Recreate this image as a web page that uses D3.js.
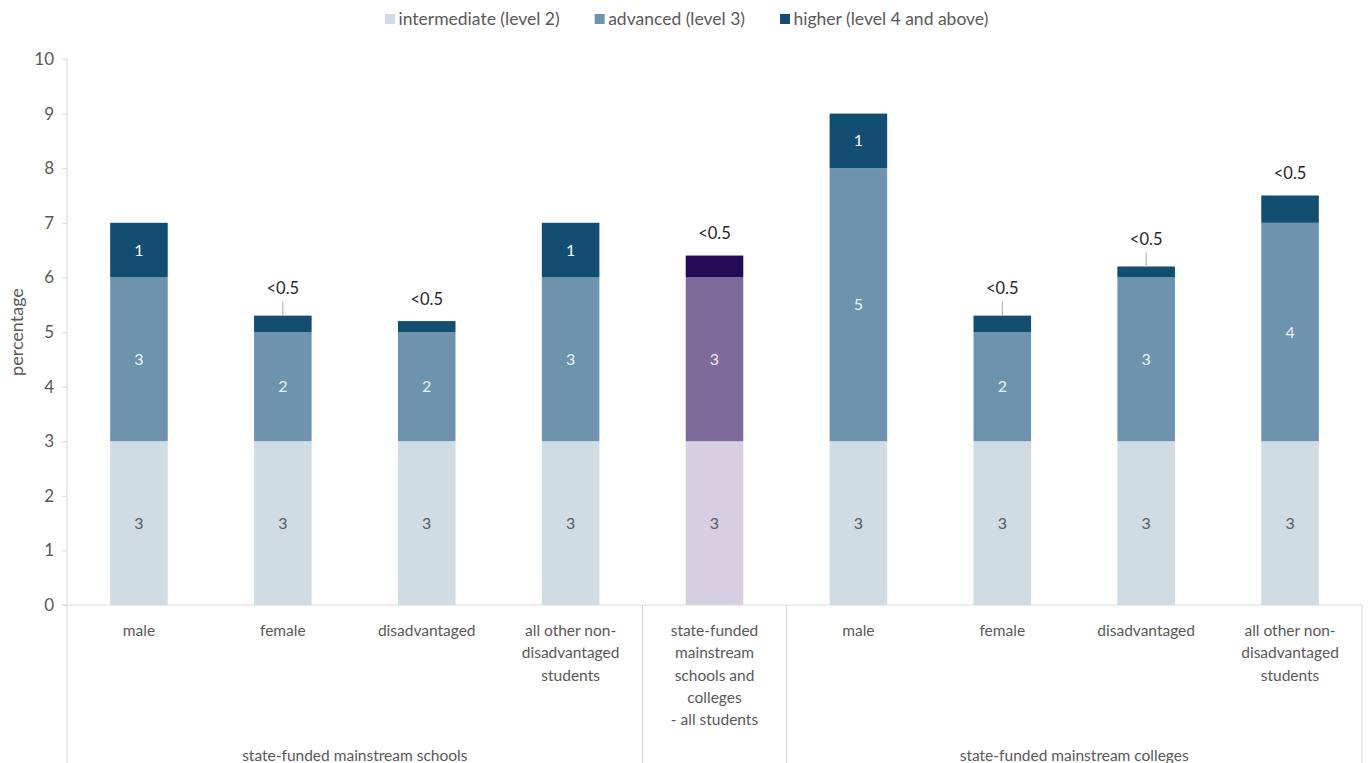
<!DOCTYPE html>
<html>
<head>
<meta charset="utf-8">
<script src="https://cdn.jsdelivr.net/npm/d3@7"></script>
<style>
  html, body { margin: 0; padding: 0; background: #fff; }
  svg { display: block; font-family: Lato, "Open Sans", sans-serif; }
</style>
</head>
<body>
<svg id="chart" width="1368" height="763"></svg>
<script>
// Category labels (multi-line) and their groups
const categories = [
  ["male"],
  ["female"],
  ["disadvantaged"],
  ["all other non-", "disadvantaged", "students"],
  ["state-funded", "mainstream", "schools and", "colleges", "- all students"],
  ["male"],
  ["female"],
  ["disadvantaged"],
  ["all other non-", "disadvantaged", "students"]
];
const groups = [
  { name: "state-funded mainstream schools", from: 0, to: 3 },
  { name: "", from: 4, to: 4 },
  { name: "state-funded mainstream colleges", from: 5, to: 8 }
];

// Percentage of students at each qualification level
const level2 = [3, 3, 3, 3, 3, 3, 3, 3, 3];
const level3 = [3, 2, 2, 3, 3, 5, 2, 3, 4];
const level4 = [1, 0.3, 0.2, 1, 0.4, 1, 0.3, 0.2, 0.5];

// Text shown on each segment
const level2Labels = ["3", "3", "3", "3", "3", "3", "3", "3", "3"];
const level3Labels = ["3", "2", "2", "3", "3", "5", "2", "3", "4"];
const level4Labels = ["1", "<0.5", "<0.5", "1", "<0.5", "1", "<0.5", "<0.5", "<0.5"];

const seriesNames = ["intermediate (level 2)", "advanced (level 3)", "higher (level 4 and above)"];
const yTicks = [0, 1, 2, 3, 4, 5, 6, 7, 8, 9, 10];

// ---- drawing ----
const svg = d3.select("#chart");
const W = 1368, H = 763;
const plot = { left: 67, right: 1362, top: 59, bottom: 605 };

const palette = ["#CFDCE4", "#6E94AD", "#114E72"];
const highlight = ["#D6CFE1", "#7F6B9B", "#250B55"];
const highlightIndex = 4;
const leaderIndexes = new Set([1, 6, 7]);

const x = d3.scaleBand()
  .domain(d3.range(categories.length))
  .range([plot.left, plot.right])
  .paddingInner(0.6)
  .paddingOuter(0.3);

const y = d3.scaleLinear().domain([0, 10]).range([plot.bottom, plot.top]);

const rows = d3.range(categories.length).map(i => ({ i, l2: level2[i], l3: level3[i], l4: level4[i] }));
const stack = d3.stack().keys(["l2", "l3", "l4"])(rows);

const axisColor = "#D9D9D9";
const textColor = "#595959";

// Bars
stack.forEach((layer, k) => {
  svg.append("g").selectAll("rect").data(layer).join("rect")
    .attr("x", d => x(d.data.i))
    .attr("width", x.bandwidth())
    .attr("y", d => y(d[1]))
    .attr("height", d => y(d[0]) - y(d[1]))
    .attr("fill", d => d.data.i === highlightIndex ? highlight[k] : palette[k]);
});

// Segment labels
const segLabels = [level2Labels, level3Labels, level4Labels];
stack.forEach((layer, k) => {
  layer.forEach(d => {
    const i = d.data.i;
    const txt = segLabels[k][i];
    const cx = x(i) + x.bandwidth() / 2;
    if (k === 2 && txt === "<0.5") {
      const hasLeader = leaderIndexes.has(i);
      const ly = y(d[1]) - (hasLeader ? 27 : 22);
      svg.append("text")
        .attr("x", cx).attr("y", ly + 5.5)
        .attr("text-anchor", "middle")
        .attr("font-size", 16.5)
        .attr("fill", "#262626")
        .text(txt);
      if (hasLeader) {
        svg.append("line")
          .attr("x1", cx).attr("x2", cx)
          .attr("y1", ly + 13).attr("y2", y(d[1]))
          .attr("stroke", "#A6A6A6").attr("stroke-width", 1);
      }
    } else {
      svg.append("text")
        .attr("x", cx).attr("y", y((d[0] + d[1]) / 2) + 5.5)
        .attr("text-anchor", "middle")
        .attr("font-size", 16)
        .attr("fill", k === 0 ? "#595959" : "#FFFFFF")
        .attr("fill-opacity", k === 1 ? 0.9 : 1)
        .text(txt);
    }
  });
});

// Y axis
const yAxis = svg.append("g").attr("transform", `translate(${plot.left},0)`)
  .call(d3.axisLeft(y).tickValues(yTicks).tickSize(5).tickPadding(8).tickFormat(d3.format("d")));
yAxis.select(".domain").remove();
yAxis.selectAll(".tick line").attr("stroke", axisColor);
yAxis.selectAll(".tick text").attr("fill", textColor).attr("font-size", 17).attr("font-family", "Lato, sans-serif");

// Left axis line extending through the category box
svg.append("line")
  .attr("x1", plot.left).attr("x2", plot.left)
  .attr("y1", plot.top).attr("y2", H)
  .attr("stroke", axisColor);

// Baseline
svg.append("line")
  .attr("x1", plot.left - 5).attr("x2", plot.right)
  .attr("y1", plot.bottom).attr("y2", plot.bottom)
  .attr("stroke", axisColor);

// Group separators
const step = x.step();
groups.forEach(g => {
  const xr = plot.left + step * (g.to + 1);
  svg.append("line")
    .attr("x1", xr).attr("x2", xr)
    .attr("y1", plot.bottom).attr("y2", H)
    .attr("stroke", axisColor);
});

// Category labels
categories.forEach((lines, i) => {
  const t = svg.append("text")
    .attr("x", x(i) + x.bandwidth() / 2)
    .attr("y", 636)
    .attr("text-anchor", "middle")
    .attr("font-size", 15.5)
    .attr("fill", textColor);
  lines.forEach((ln, j) => {
    t.append("tspan").attr("x", x(i) + x.bandwidth() / 2).attr("dy", j === 0 ? 0 : 22.3).text(ln);
  });
});

// Group labels
groups.forEach(g => {
  if (!g.name) return;
  const cx = plot.left + step * (g.from + g.to + 1) / 2;
  svg.append("text")
    .attr("x", cx).attr("y", 761)
    .attr("text-anchor", "middle")
    .attr("font-size", 15.5)
    .attr("fill", textColor)
    .text(g.name);
});

// Y axis title
svg.append("text")
  .attr("transform", `translate(23,332) rotate(-90)`)
  .attr("text-anchor", "middle")
  .attr("font-size", 18)
  .attr("fill", textColor)
  .text("percentage");

// Legend
const legend = svg.append("g").attr("transform", "translate(0,19)");
let lx = 385;
seriesNames.forEach((name, k) => {
  legend.append("rect")
    .attr("x", lx).attr("y", -5).attr("width", 10).attr("height", 10)
    .attr("fill", palette[k]);
  const t = legend.append("text")
    .attr("x", lx + 13.5).attr("y", 6)
    .attr("font-size", 17.5)
    .attr("fill", textColor)
    .text(name);
  lx += 13.5 + t.node().getComputedTextLength() + 35;
});
</script>
</body>
</html>
